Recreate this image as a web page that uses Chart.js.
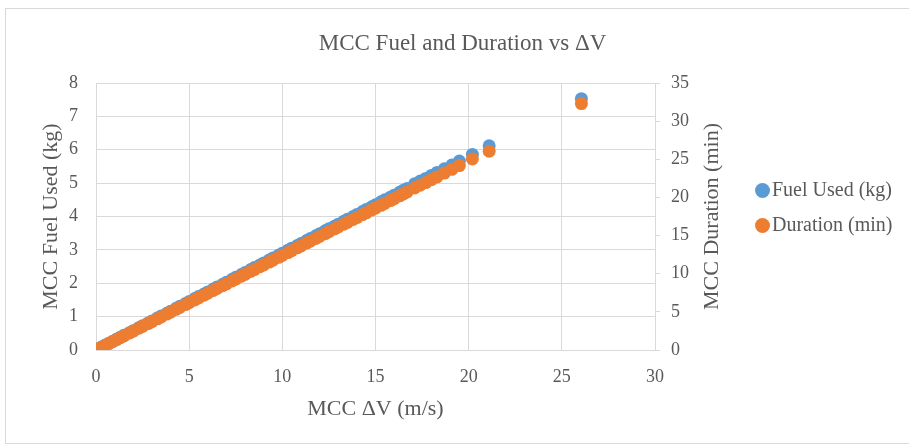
<!DOCTYPE html>
<html>
<head>
<meta charset="utf-8">
<script src="https://cdn.jsdelivr.net/npm/chart.js@4.4.1/dist/chart.umd.min.js"></script>
<style>
  html, body { margin: 0; padding: 0; background: #ffffff; }
  #wrap { position: relative; width: 909px; height: 444px; }
</style>
</head>
<body>
<div id="wrap"><canvas id="c" width="909" height="444"></canvas></div>
<script>
// ---- data ----
const deltaV = [0.1, 0.3, 0.5, 0.7, 0.9, 1.1, 1.3, 1.5, 1.8, 2.0, 2.3, 2.5, 2.8, 3.0, 3.3, 3.5, 3.8, 4.0, 4.3, 4.5,
  4.8, 5.0, 5.3, 5.5, 5.8, 6.0, 6.3, 6.5, 6.8, 7.0, 7.3, 7.5, 7.8, 8.0, 8.3, 8.5, 8.8, 9.0, 9.3, 9.5,
  9.8, 10.0, 10.3, 10.5, 10.8, 11.0, 11.3, 11.5, 11.8, 12.0, 12.3, 12.5, 12.8, 13.0, 13.3, 13.5, 13.8, 14.0, 14.3, 14.5,
  14.8, 15.0, 15.3, 15.5, 15.8, 16.0, 16.3, 16.5, 16.7, 17.1, 17.4, 17.7, 18.0, 18.3, 18.7, 19.1, 19.5, 20.2, 21.1, 26.05];
const fuelUsed = [0.03, 0.09, 0.15, 0.20, 0.26, 0.32, 0.38, 0.44, 0.52, 0.58, 0.67, 0.73, 0.81, 0.87, 0.96, 1.02, 1.10, 1.16, 1.25, 1.31,
  1.39, 1.45, 1.54, 1.60, 1.68, 1.74, 1.83, 1.89, 1.97, 2.03, 2.12, 2.18, 2.26, 2.32, 2.41, 2.47, 2.55, 2.61, 2.70, 2.76,
  2.84, 2.90, 2.99, 3.05, 3.13, 3.19, 3.28, 3.34, 3.42, 3.48, 3.57, 3.63, 3.71, 3.77, 3.86, 3.92, 4.00, 4.06, 4.15, 4.21,
  4.29, 4.35, 4.44, 4.50, 4.58, 4.64, 4.73, 4.79, 4.84, 4.98, 5.06, 5.14, 5.23, 5.32, 5.43, 5.54, 5.66, 5.86, 6.12, 7.53];
const durationMin = [0.12, 0.37, 0.62, 0.87, 1.12, 1.36, 1.61, 1.86, 2.23, 2.48, 2.85, 3.10, 3.47, 3.72, 4.09, 4.34, 4.71, 4.96, 5.33, 5.58,
  5.95, 6.20, 6.57, 6.82, 7.19, 7.44, 7.81, 8.06, 8.43, 8.68, 9.05, 9.30, 9.67, 9.92, 10.29, 10.54, 10.91, 11.16, 11.53, 11.78,
  12.15, 12.40, 12.77, 13.02, 13.39, 13.64, 14.01, 14.26, 14.63, 14.88, 15.25, 15.50, 15.87, 16.12, 16.49, 16.74, 17.11, 17.36, 17.73, 17.98,
  18.35, 18.60, 18.97, 19.22, 19.59, 19.84, 20.21, 20.46, 20.71, 21.25, 21.60, 21.95, 22.32, 22.69, 23.19, 23.68, 24.18, 25.05, 26.05, 32.3];
const seriesNames = ['Fuel Used (kg)', 'Duration (min)'];
const seriesColors = ['#5B9BD5', '#ED7D31'];
const chartTitle = 'MCC Fuel and Duration vs \u0394V';
const xTitle = 'MCC \u0394V (m/s)';
const yTitle = 'MCC Fuel Used (kg)';
const y2Title = 'MCC Duration (min)';

// ---- styling ----
const FONT = 'Liberation Serif';
const TXT = '#595959';
const GRID = '#d9d9d9';

const framePlugin = {
  id: 'frame',
  beforeDraw(chart) {
    const ctx = chart.ctx;
    ctx.save();
    ctx.fillStyle = '#ffffff';
    ctx.fillRect(0, 0, chart.width, chart.height);
    ctx.strokeStyle = GRID;
    ctx.lineWidth = 1;
    ctx.strokeRect(5.5, 8.5, chart.width, chart.height - 9);
    ctx.restore();
  },
  afterDraw(chart) {
    const s = chart.scales.y2;
    const ctx = chart.ctx;
    ctx.save();
    // right axis title, reading bottom-to-top
    ctx.translate(s.left + 57, (s.top + s.bottom) / 2);
    ctx.rotate(-Math.PI / 2);
    ctx.font = '22px "' + FONT + '"';
    ctx.fillStyle = TXT;
    ctx.textAlign = 'center';
    ctx.textBaseline = 'middle';
    ctx.fillText(y2Title, 0, 0);
    ctx.restore();
    // legend
    ctx.save();
    ctx.font = '20px "' + FONT + '"';
    ctx.textAlign = 'left';
    ctx.textBaseline = 'middle';
    const items = chart.data.datasets.map((d, i) => ({ text: d.label, color: d.backgroundColor }));
    items.forEach((it, i) => {
      const cy = 190.5 + i * 35;
      ctx.fillStyle = it.color;
      ctx.beginPath();
      ctx.arc(762.5, cy, 7.5, 0, Math.PI * 2);
      ctx.fill();
      ctx.fillStyle = TXT;
      ctx.fillText(it.text, 772, cy);
    });
    ctx.restore();
  }
};

new Chart(document.getElementById('c'), {
  type: 'scatter',
  data: {
    datasets: [
      {
        label: seriesNames[0],
        data: deltaV.map((v, i) => ({ x: v, y: fuelUsed[i] })),
        yAxisID: 'y',
        backgroundColor: seriesColors[0],
        borderColor: seriesColors[0],
        borderWidth: 0,
        pointRadius: 6.5,
        pointHoverRadius: 6.5,
        order: 1
      },
      {
        label: seriesNames[1],
        data: deltaV.map((v, i) => ({ x: v, y: durationMin[i] })),
        yAxisID: 'y2',
        backgroundColor: seriesColors[1],
        borderColor: seriesColors[1],
        borderWidth: 0,
        pointRadius: 6.5,
        pointHoverRadius: 6.5,
        order: 0
      }
    ]
  },
  options: {
    responsive: false,
    animation: false,
    events: [],
    layout: { padding: { top: 0, left: 16, right: 0, bottom: 0 } },
    plugins: {
      tooltip: { enabled: false },
      legend: { display: false },
      title: {
        display: true,
        text: chartTitle,
        color: TXT,
        font: { family: FONT, size: 23, weight: 'normal' },
        padding: { top: 30, bottom: 25.4 }
      }
    },
    scales: {
      x: {
        type: 'linear',
        min: 0, max: 30,
        afterFit(s) { s.height = 94; },
        ticks: { stepSize: 5, color: TXT, font: { family: FONT, size: 18 }, padding: 16 },
        grid: { color: GRID, drawTicks: false },
        border: { color: GRID },
        title: { display: true, text: xTitle, color: TXT, font: { family: FONT, size: 22 }, padding: { top: 0, bottom: 22 } }
      },
      y: {
        type: 'linear',
        position: 'left',
        min: 0, max: 8,
        afterFit(s) { s.width = 80; },
        ticks: { stepSize: 1, color: TXT, font: { family: FONT, size: 18 }, padding: 18 },
        grid: { color: GRID, drawTicks: false },
        border: { display: false },
        title: { display: true, text: yTitle, color: TXT, font: { family: FONT, size: 22 }, padding: { top: 22, bottom: 0 } }
      },
      y2: {
        type: 'linear',
        position: 'right',
        min: 0, max: 35,
        afterFit(s) { s.width = 254; },
        ticks: { stepSize: 5, color: TXT, font: { family: FONT, size: 18 }, padding: 11 },
        grid: { drawOnChartArea: false, color: GRID, tickLength: 5 },
        border: { color: GRID }
      }
    }
  },
  plugins: [framePlugin]
});
</script>
</body>
</html>
